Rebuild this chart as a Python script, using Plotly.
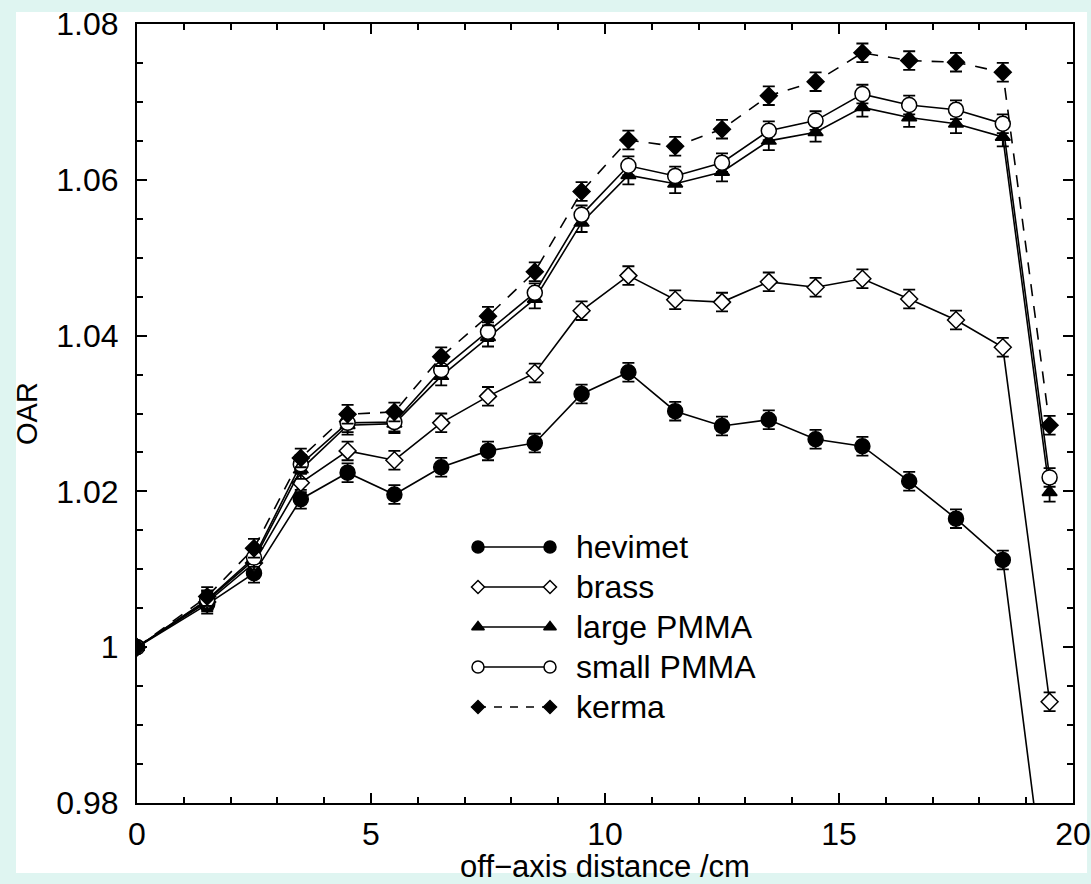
import plotly.graph_objects as go

# off-axis positions (cm)
distance = [0, 1.5, 2.5, 3.5, 4.5, 5.5, 6.5, 7.5, 8.5, 9.5, 10.5,
            11.5, 12.5, 13.5, 14.5, 15.5, 16.5, 17.5, 18.5, 19.5]

# off-axis ratios for each scatter foil
hevimet = [1.0, 1.0055, 1.0095, 1.0190, 1.0224, 1.0196, 1.0231, 1.0252, 1.0262, 1.0325,
           1.0353, 1.0303, 1.0284, 1.0292, 1.0267, 1.0258, 1.0213, 1.0165, 1.0112, 0.964]
brass = [1.0, 1.0058, 1.0108, 1.0211, 1.0252, 1.0240, 1.0288, 1.0322, 1.0352, 1.0432,
         1.0477, 1.0446, 1.0443, 1.0469, 1.0462, 1.0473, 1.0447, 1.0420, 1.0385, 0.9930]
large_pmma = [1.0, 1.0060, 1.0112, 1.0228, 1.0285, 1.0287, 1.0348, 1.0398, 1.0447, 1.0545,
              1.0606, 1.0595, 1.0610, 1.0650, 1.0661, 1.0693, 1.0680, 1.0672, 1.0655, 1.0199]
small_pmma = [1.0, 1.0061, 1.0115, 1.0235, 1.0288, 1.0289, 1.0356, 1.0405, 1.0455, 1.0555,
              1.0618, 1.0605, 1.0622, 1.0663, 1.0676, 1.0710, 1.0696, 1.0690, 1.0672, 1.0218]
kerma = [1.0, 1.0065, 1.0127, 1.0243, 1.0299, 1.0302, 1.0373, 1.0425, 1.0482, 1.0585,
         1.0651, 1.0643, 1.0665, 1.0708, 1.0726, 1.0763, 1.0753, 1.0751, 1.0738, 1.0285]

# statistical uncertainty of each point
err = [0.0, 0.0012, 0.0012, 0.0012, 0.0012, 0.0012, 0.0012, 0.0012, 0.0012, 0.0012,
       0.0012, 0.0012, 0.0012, 0.0012, 0.0012, 0.0012, 0.0012, 0.0012, 0.0012, 0.0012]

series_names = ["hevimet", "brass", "large PMMA", "small PMMA", "kerma"]

y_tickvals = [0.98, 1.0, 1.02, 1.04, 1.06, 1.08]
y_ticktext = ["0.98", "1", "1.02", "1.04", "1.06", "1.08"]
x_tickvals = [0, 5, 10, 15, 20]
x_ticktext = ["0", "5", "10", "15", "20"]

FONT = "Liberation Sans, Arial, Helvetica, sans-serif"
BLACK = "black"

styles = [
    dict(symbol="circle", size=15, fill=BLACK, dash="solid", lsize=12),
    dict(symbol="diamond", size=13, fill="white", dash="solid", lsize=10),
    dict(symbol="triangle-up", size=13, fill=BLACK, dash="solid", lsize=11),
    dict(symbol="circle", size=15, fill="white", dash="solid", lsize=12),
    dict(symbol="diamond", size=13, fill=BLACK, dash="12px,10px", lsize=10),
]
series_values = [hevimet, brass, large_pmma, small_pmma, kerma]

fig = go.Figure()

for name, vals, st in zip(series_names, series_values, styles):
    fig.add_trace(go.Scatter(
        x=distance, y=vals, name=name, mode="lines+markers",
        line=dict(color=BLACK, width=1.6, dash=st["dash"]),
        marker=dict(symbol=st["symbol"], size=st["size"], color=st["fill"],
                    line=dict(color=BLACK, width=1.5)),
        error_y=dict(type="data", array=err, visible=True, color=BLACK,
                     thickness=1.8, width=6),
        showlegend=False,
    ))

# hand-drawn key: marker — line — marker, followed by the label
key_x0, key_x1, key_text_x = 478, 550, 574
key_rows = [547, 587, 627, 667, 707]
for name, st, row in zip(series_names, styles, key_rows):
    fig.add_trace(go.Scatter(
        x=[key_x0, key_x1], y=[row, row], mode="lines+markers",
        xaxis="x2", yaxis="y2", showlegend=False, hoverinfo="skip",
        line=dict(color=BLACK, width=1.5,
                  dash="8px,8px" if st["dash"] != "solid" else "solid"),
        marker=dict(symbol=st["symbol"], size=st["lsize"], color=st["fill"],
                    line=dict(color=BLACK, width=1.5)),
    ))
    fig.add_annotation(x=key_text_x, y=row, xref="x2", yref="y2", text=name,
                       showarrow=False, xanchor="left", yanchor="middle",
                       font=dict(family=FONT, size=32, color=BLACK))

axis_common = dict(
    showline=True, linecolor=BLACK, linewidth=2, mirror="allticks",
    ticks="inside", ticklen=10, tickwidth=1.5, tickcolor=BLACK,
    showgrid=False, zeroline=False, automargin=False,
    tickfont=dict(family=FONT, size=32, color=BLACK),
)

fig.update_layout(
    width=1091, height=884,
    margin=dict(l=137, r=18, t=24, b=81, pad=0),
    paper_bgcolor="#dff5f1",
    plot_bgcolor="white",
    xaxis=dict(range=[0, 20], tickvals=x_tickvals, ticktext=x_ticktext,
               minor=dict(dtick=1, tick0=0, ticks="inside", ticklen=6,
                          tickwidth=1.5, tickcolor=BLACK),
               ticklabelstandoff=2,
               title=dict(text="off\u2212axis distance /cm", standoff=3,
                          font=dict(family=FONT, size=31, color=BLACK)),
               **axis_common),
    yaxis=dict(range=[0.98, 1.08], tickvals=y_tickvals, ticktext=y_ticktext,
               minor=dict(dtick=0.005, tick0=0.98, ticks="inside", ticklen=6,
                          tickwidth=1.5, tickcolor=BLACK),
               ticklabelstandoff=10,
               title=dict(text="OAR", standoff=10,
                          font=dict(family=FONT, size=29, color=BLACK)),
               **axis_common),
    xaxis2=dict(overlaying="x", range=[137, 1073], visible=False, fixedrange=True),
    yaxis2=dict(overlaying="y", range=[803, 24], visible=False, fixedrange=True),
    shapes=[dict(type="rect", xref="paper", yref="paper",
                 x0=-0.1293, x1=1.015, y0=-0.0899, y1=1.0154,
                 fillcolor="white", line=dict(width=0), layer="below")],
    showlegend=False,
)

fig.write_html("out.html")
